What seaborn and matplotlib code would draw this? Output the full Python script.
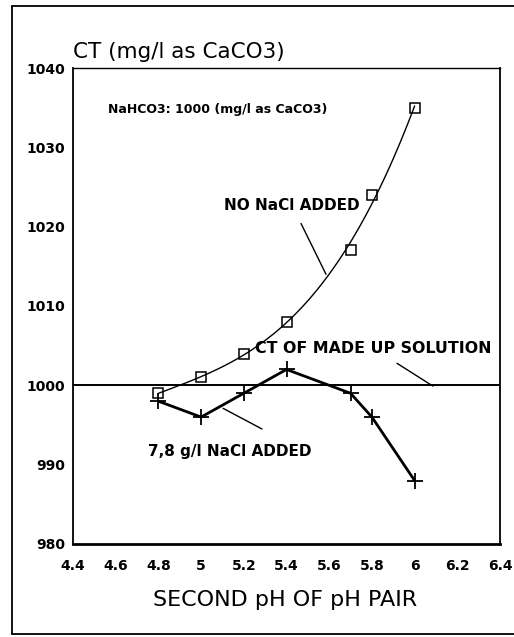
import numpy as np
import pandas as pd
import matplotlib
matplotlib.use("Agg")
import matplotlib.pyplot as plt
import seaborn as sns
from matplotlib.lines import Line2D

# ---- data ----
ph_values = [4.8, 5.0, 5.2, 5.4, 5.7, 5.8, 6.0]
ct_no_nacl = [999, 1001, 1004, 1008, 1017, 1024, 1035]
ct_nacl = [998, 996, 999, 1002, 999, 996, 988]
made_up_ct = 1000
x_ticks = [4.4, 4.6, 4.8, 5.0, 5.2, 5.4, 5.6, 5.8, 6.0, 6.2, 6.4]
x_tick_labels = ["4.4", "4.6", "4.8", "5", "5.2", "5.4", "5.6", "5.8", "6", "6.2", "6.4"]
y_ticks = [980, 990, 1000, 1010, 1020, 1030, 1040]
y_tick_labels = ["980", "990", "1000", "1010", "1020", "1030", "1040"]

df_no = pd.DataFrame({"ph": ph_values, "ct": ct_no_nacl})
df_na = pd.DataFrame({"ph": ph_values, "ct": ct_nacl})

sns.set_theme(style="white")
plt.rcParams["font.family"] = ["DejaVu Sans"]
plt.rcParams["text.color"] = "black"
plt.rcParams["xtick.color"] = "black"
plt.rcParams["ytick.color"] = "black"

W, H = 514, 637
fig = plt.figure(figsize=(W / 100, H / 100), dpi=100)
ax = fig.add_axes([73 / W, 1 - 544 / H, (500 - 73) / W, (544 - 68) / H])

# fitted curve for NO NaCl
sns.regplot(data=df_no, x="ph", y="ct", order=3, ci=None, scatter=False,
            truncate=True, line_kws=dict(color="black", lw=1.0), ax=ax)
sns.lineplot(data=df_no, x="ph", y="ct", marker="s", linestyle="none",
             markersize=7.5, markerfacecolor="none", markeredgecolor="black",
             markeredgewidth=1.1, ax=ax)
# 7,8 g/l NaCl series
sns.lineplot(data=df_na, x="ph", y="ct", marker="+", color="black", lw=2.0,
             markersize=11, markeredgewidth=1.3, markeredgecolor="black", ax=ax)
ax.axhline(made_up_ct, color="black", lw=1.4)

ax.set_xlim(4.4, 6.4)
ax.set_ylim(980, 1040)
ax.set_xticks(x_ticks)
ax.set_xticklabels(x_tick_labels, fontsize=10, fontweight="bold")
ax.set_yticks(y_ticks)
ax.set_yticklabels(y_tick_labels, fontsize=10, fontweight="bold")
ax.tick_params(axis="x", direction="in", length=5, width=1.2, pad=11, colors="black")
ax.tick_params(axis="y", direction="inout", length=7, width=1.2, pad=2, colors="black")
ax.set_xlabel("")
ax.set_ylabel("")
for side, lw in [("left", 1.3), ("bottom", 2.0), ("top", 1.0), ("right", 1.3)]:
    ax.spines[side].set_color("black")
    ax.spines[side].set_linewidth(lw)
    ax.spines[side].set_visible(True)

# annotations
ax.text(4.564, 1034.8, "NaHCO3: 1000 (mg/l as CaCO3)", fontsize=9, fontweight="bold",
        ha="left", va="center")
ax.annotate("NO NaCl ADDED", xy=(5.585, 1014.0), xytext=(5.426, 1022.7),
            fontsize=11, fontweight="bold", ha="center", va="center",
            arrowprops=dict(arrowstyle="-", color="black", lw=1.0,
                            shrinkA=6, shrinkB=0))
ax.annotate("CT OF MADE UP SOLUTION", xy=(6.086, 999.9), xytext=(5.805, 1004.7),
            fontsize=11.4, fontweight="bold", ha="center", va="center",
            arrowprops=dict(arrowstyle="-", color="black", lw=1.0,
                            shrinkA=6, shrinkB=0))
ax.text(5.133, 991.7, "7,8 g/l NaCl ADDED", fontsize=11, fontweight="bold",
        ha="center", va="center")
ax.annotate("", xy=(5.103, 997.1), xytext=(5.285, 994.5),
            arrowprops=dict(arrowstyle="-", color="black", lw=1.0,
                            shrinkA=0, shrinkB=0))

# titles
fig.text(73 / W, 1 - 58 / H, "CT (mg/l as CaCO3)", fontsize=15.5, ha="left", va="baseline")
fig.text(285 / W, 1 - 606 / H, "SECOND pH OF pH PAIR", fontsize=16, ha="center", va="baseline")

# outer frame
fx0, fy0, fy1 = 12 / W, 1 - 634 / H, 1 - 6 / H
for xs, ys in [([fx0, fx0], [fy0, fy1]), ([fx0, 1.0], [fy1, fy1]), ([fx0, 1.0], [fy0, fy0])]:
    fig.add_artist(Line2D(xs, ys, transform=fig.transFigure, color="black", lw=1.3))

fig.savefig("out.png", dpi=100, facecolor="white")
